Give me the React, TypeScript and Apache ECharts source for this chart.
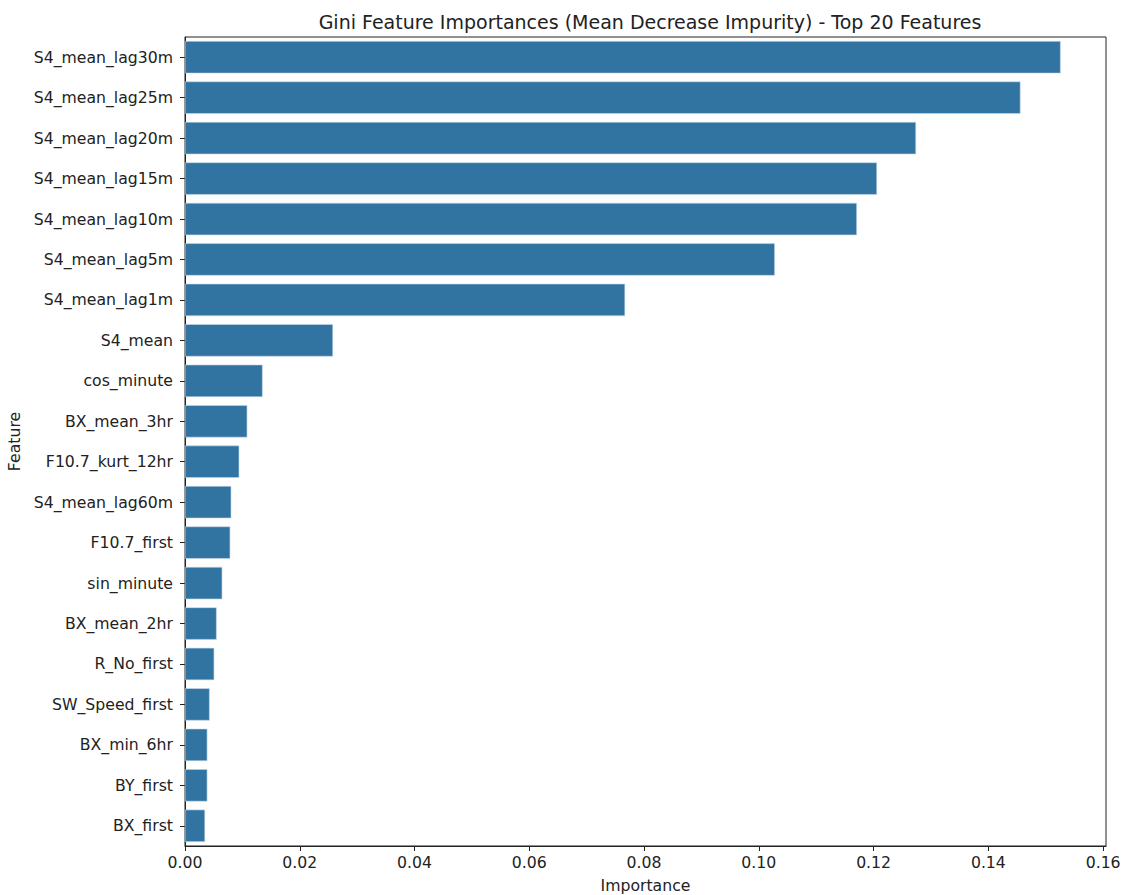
import React, { useEffect, useRef } from "react";
import * as echarts from "echarts";

// Top 20 features by Gini importance (mean decrease in impurity)
const features: string[] = [
  "S4_mean_lag30m",
  "S4_mean_lag25m",
  "S4_mean_lag20m",
  "S4_mean_lag15m",
  "S4_mean_lag10m",
  "S4_mean_lag5m",
  "S4_mean_lag1m",
  "S4_mean",
  "cos_minute",
  "BX_mean_3hr",
  "F10.7_kurt_12hr",
  "S4_mean_lag60m",
  "F10.7_first",
  "sin_minute",
  "BX_mean_2hr",
  "R_No_first",
  "SW_Speed_first",
  "BX_min_6hr",
  "BY_first",
  "BX_first",
];

const importances: number[] = [
  0.1526, 0.1456, 0.1274, 0.1206, 0.1171, 0.1028, 0.0767, 0.0258, 0.01353,
  0.01086, 0.00946, 0.00807, 0.00789, 0.0065, 0.00552, 0.0051, 0.0043, 0.0039,
  0.0039, 0.0035,
];

const xTicks: number[] = [0, 0.02, 0.04, 0.06, 0.08, 0.1, 0.12, 0.14, 0.16];

const FONT = "DejaVu Sans";
const INK = "#222222";
const LABEL_SIZE = 15.7;

export default function App() {
  const ref = useRef<HTMLDivElement>(null);

  useEffect(() => {
    document.body.style.margin = "0";
    if (!ref.current) return;
    const chart = echarts.init(ref.current, undefined, { renderer: "svg" });
    chart.setOption({
      animation: false,
      backgroundColor: "#ffffff",
      textStyle: { fontFamily: FONT },
      title: {
        text: "Gini Feature Importances (Mean Decrease Impurity) - Top 20 Features",
        left: 645,
        textAlign: "center",
        top: 7,
        textStyle: {
          fontFamily: FONT,
          fontSize: 19,
          fontWeight: "normal",
          color: INK,
        },
      },
      grid: {
        left: 185,
        right: 20,
        top: 37,
        bottom: 49,
        containLabel: false,
        outerBoundsMode: "none",
        show: true,
        borderColor: "#222",
        borderWidth: 1,
        backgroundColor: "transparent",
      },
      xAxis: {
        type: "value",
        min: 0,
        max: 0.1605,
        interval: 0.02,
        name: "Importance",
        nameLocation: "middle",
        nameGap: 31,
        nameTextStyle: { fontFamily: FONT, fontSize: LABEL_SIZE, color: INK },
        splitLine: { show: false },
        axisLine: { show: true, lineStyle: { color: "#222", width: 1 } },
        axisTick: {
          show: true,
          length: 5,
          inside: false,
          lineStyle: { color: "#222" },
          customValues: xTicks,
        },
        axisLabel: {
          fontFamily: FONT,
          fontSize: LABEL_SIZE,
          color: INK,
          margin: 8,
          customValues: xTicks,
          formatter: (v: number) => v.toFixed(2),
        },
      },
      yAxis: {
        type: "category",
        data: features,
        inverse: true,
        name: "Feature",
        nameLocation: "middle",
        nameRotate: 90,
        nameGap: 155,
        nameTextStyle: { fontFamily: FONT, fontSize: LABEL_SIZE, color: INK },
        axisLine: { show: true, lineStyle: { color: "#222", width: 1 } },
        axisTick: {
          show: true,
          length: 5,
          alignWithLabel: true,
          lineStyle: { color: "#222" },
        },
        axisLabel: {
          fontFamily: FONT,
          fontSize: LABEL_SIZE,
          color: INK,
          margin: 12,
        },
        splitLine: { show: false },
      },
      series: [
        {
          type: "bar",
          data: importances,
          barCategoryGap: "20%",
          itemStyle: {
            color: "#3274a1",
            borderColor: "#c9d9e6",
            borderWidth: 0.6,
          },
        },
      ],
    });
    return () => chart.dispose();
  }, []);

  return <div ref={ref} style={{ width: 1126, height: 895 }} />;
}
